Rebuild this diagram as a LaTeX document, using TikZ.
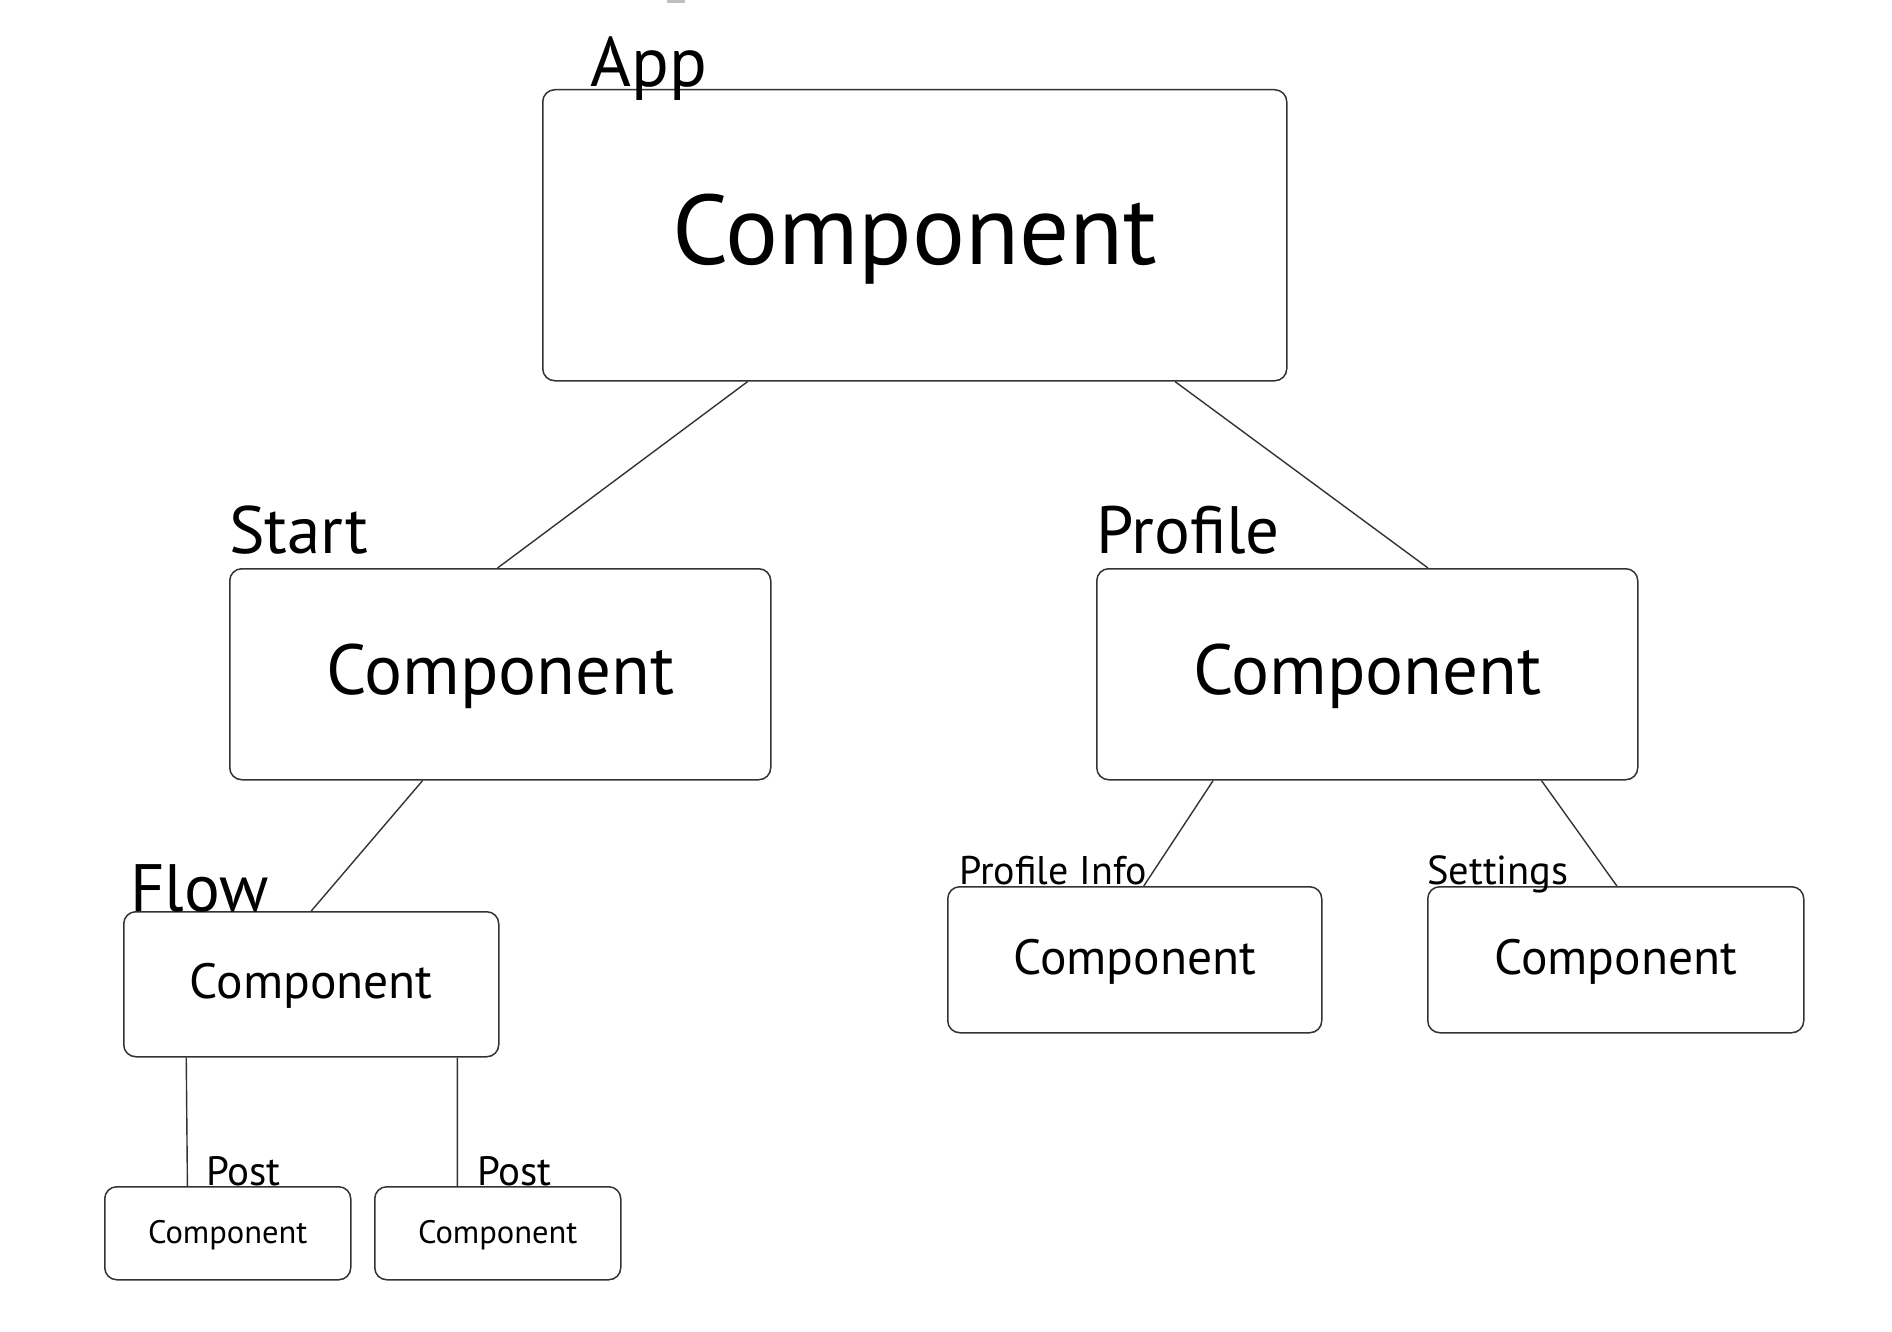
\documentclass[tikz,border=0pt]{standalone}
\usepackage{fontspec}
\setmainfont{PT Sans}
\usetikzlibrary{calc}
\tikzset{
  comp/.style={draw=black!80, line width=1.5pt, rounded corners=12pt, anchor=north west, inner sep=0pt},
  lbl/.style={anchor=base west, inner sep=0pt},
  conn/.style={draw=black!80, line width=1.4pt},
}
\newcommand{\fsz}[1]{\fontsize{#1}{#1}\selectfont}
\begin{document}
\begin{tikzpicture}[x=1pt,y=-1pt]
\useasboundingbox (0,0) rectangle (1892,1332);
\fill[black!25] (667,0) rectangle (685,3);
% boxes
\node[comp, minimum width=744pt, minimum height=291pt] (app) at (542,89) {};
\node[font=\fsz{99}] at ($(app.center)+(0,4)$) {Component};
\node[comp, minimum width=541pt, minimum height=211pt] (start) at (229,568) {};
\node[font=\fsz{71}] at ($(start.center)+(0,2)$) {Component};
\node[comp, minimum width=541pt, minimum height=211pt] (profile) at (1096,568) {};
\node[font=\fsz{71}] at ($(profile.center)+(0,2)$) {Component};
\node[comp, minimum width=375pt, minimum height=145pt] (flow) at (123,911) {};
\node[font=\fsz{49.5}] at ($(flow.center)+(0,2)$) {Component};
\node[comp, minimum width=374pt, minimum height=146pt] (pinfo) at (947,886) {};
\node[font=\fsz{49.5}] at ($(pinfo.center)+(0,2)$) {Component};
\node[comp, minimum width=376pt, minimum height=146pt] (settings) at (1427,886) {};
\node[font=\fsz{49.5}] at ($(settings.center)+(0,2)$) {Component};
\node[comp, minimum width=246pt, minimum height=93pt] (post1) at (104,1186) {};
\node[font=\fsz{32.5}] at ($(post1.center)+(0,2)$) {Component};
\node[comp, minimum width=246pt, minimum height=93pt] (post2) at (374,1186) {};
\node[font=\fsz{32.5}] at ($(post2.center)+(0,2)$) {Component};
% labels
\node[lbl, font=\fsz{70}] (lapp) at ($(app.north west)+(48,-2)$) {App};
\node[lbl, font=\fsz{67}] (lstart) at ($(start.north west)+(0,-15)$) {Start};
\node[lbl, font=\fsz{67}] (lprofile) at ($(profile.north west)+(0,-15)$) {Profile};
\node[lbl, font=\fsz{67}] (lflow) at ($(flow.north west)+(7,0)$) {Flow};
\node[lbl, font=\fsz{40}] (lpinfo) at ($(pinfo.north west)+(12,-2)$) {Profile Info};
\node[lbl, font=\fsz{40.5}] (lsettings) at ($(settings.north west)+(0,-2)$) {Settings};
\node[lbl, font=\fsz{41}] (lpost1) at ($(post1.north west)+(102,-1)$) {Post};
\node[lbl, font=\fsz{41}] (lpost2) at ($(post2.north west)+(103,-1)$) {Post};
% connectors
\draw[conn] ($(app.south west)!0.276!(app.south east)$) -- ($(start.north west)!0.495!(start.north east)$);
\draw[conn] ($(app.south west)!0.849!(app.south east)$) -- ($(profile.north west)!0.612!(profile.north east)$);
\draw[conn] ($(start.south west)!0.357!(start.south east)$) -- ($(flow.north west)!0.50!(flow.north east)$);
\draw[conn] ($(profile.south west)!0.216!(profile.south east)$) -- ($(pinfo.north west)!0.524!(pinfo.north east)$);
\draw[conn] ($(profile.south west)!0.821!(profile.south east)$) -- ($(settings.north west)!0.503!(settings.north east)$);
\draw[conn] ($(flow.south west)!0.168!(flow.south east)$) -- ($(post1.north west)!0.337!(post1.north east)$);
\draw[conn] ($(flow.south west)!0.888!(flow.south east)$) -- ($(post2.north west)!0.337!(post2.north east)$);
\end{tikzpicture}
\end{document}
